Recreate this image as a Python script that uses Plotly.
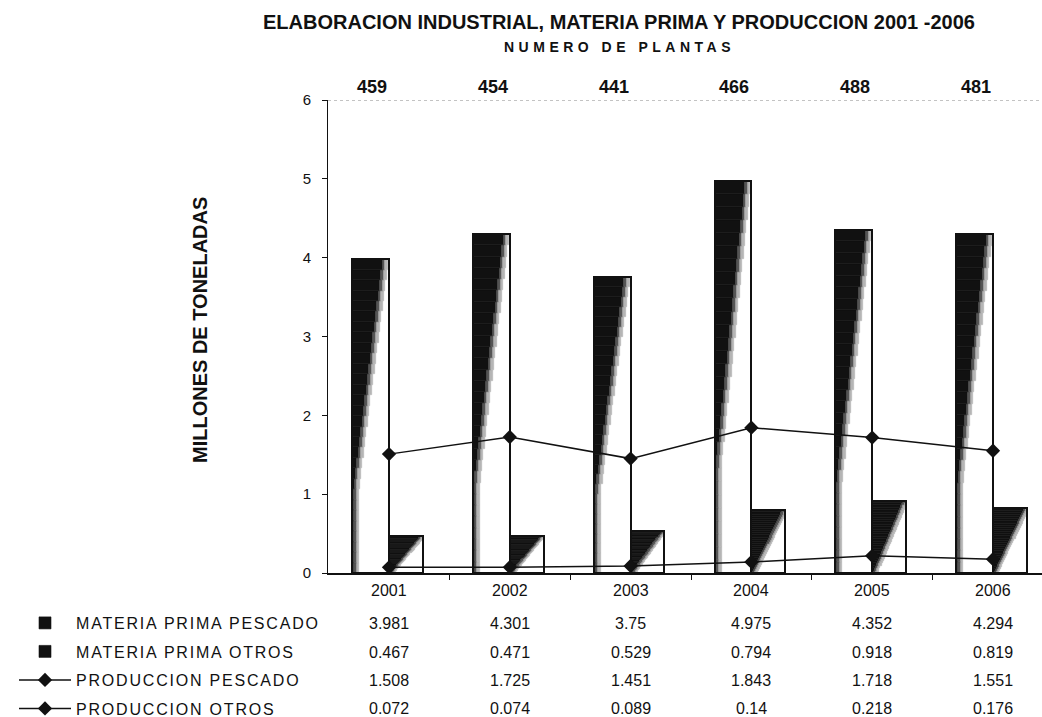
import plotly.graph_objects as go

years = ["2001", "2002", "2003", "2004", "2005", "2006"]
plantas = [459, 454, 441, 466, 488, 481]
mp_pescado = [3.981, 4.301, 3.75, 4.975, 4.352, 4.294]
mp_otros = [0.467, 0.471, 0.529, 0.794, 0.918, 0.819]
prod_pescado = [1.508, 1.725, 1.451, 1.843, 1.718, 1.551]
prod_otros = [0.072, 0.074, 0.089, 0.14, 0.218, 0.176]

series_names = ["MATERIA PRIMA PESCADO", "MATERIA PRIMA OTROS",
                "PRODUCCION PESCADO", "PRODUCCION OTROS"]

FONT = "Liberation Sans, Arial, sans-serif"
xs = list(range(len(years)))

fig = go.Figure()


def clip(v, lo, hi):
    return max(lo, min(hi, v))


def f_pes(t):
    return clip(0.05 + (t - 0.27) / 0.73 * 0.8, 0.05, 0.88)


def f_otr(t):
    return clip(0.03 + 0.9 * t, 0.05, 0.92)


N = 30
bar_specs = [
    (mp_pescado, -0.305, 0.305, f_pes, series_names[0], "g0"),
    (mp_otros, 0.0, 0.28, f_otr, series_names[1], "g1"),
]
for vals, off, wid, fn, name, grp in bar_specs:
    first = True
    for k in range(N):
        t = (k + 0.5) / N
        a = fn(t)
        segs = [(0.0, a, "#111111"),
                (a, min(a + 0.07, 1.0), "#555555"),
                (min(a + 0.07, 1.0), min(a + 0.14, 1.0), "#b5b5b5")]
        for u0, u1, col in segs:
            if u1 - u0 <= 1e-6:
                continue
            fig.add_trace(go.Bar(
                x=xs, y=[v / N for v in vals], base=[v * k / N for v in vals],
                offset=off + u0 * wid, width=(u1 - u0) * wid,
                marker=dict(color=col, line=dict(color=col, width=0.6)),
                name=name, legendgroup=grp, showlegend=first,
                hoverinfo="skip"))
            first = False
    fig.add_trace(go.Bar(
        x=xs, y=vals, offset=off, width=wid,
        marker=dict(color="rgba(0,0,0,0)", line=dict(color="#111111", width=2)),
        name=name, legendgroup=grp, showlegend=False))

fig.add_trace(go.Scatter(
    x=xs, y=prod_pescado, mode="lines+markers", name=series_names[2],
    legendgroup="g2",
    line=dict(color="#111111", width=1.5),
    marker=dict(symbol="diamond", size=11, color="#111111")))
fig.add_trace(go.Scatter(
    x=xs, y=prod_otros, mode="lines+markers", name=series_names[3],
    legendgroup="g3",
    line=dict(color="#111111", width=1.5),
    marker=dict(symbol="diamond", size=11, color="#111111")))

for tr in fig.data:
    if tr.showlegend is not False:
        tr.name = f"<span style='letter-spacing:1.8px'>{tr.name}</span>"

annotations = []
annotations.append(dict(
    text="<b>ELABORACION INDUSTRIAL, MATERIA PRIMA Y PRODUCCION 2001 -2006</b>",
    xref="paper", yref="paper", x=0.4076, y=1.165, showarrow=False,
    font=dict(family=FONT, size=20, color="#111111"), xanchor="center", yanchor="middle"))
annotations.append(dict(
    text="<b><span style='letter-spacing:4.5px'>NUMERO DE PLANTAS</span></b>",
    xref="paper", yref="paper", x=0.4076, y=1.113, showarrow=False,
    font=dict(family=FONT, size=14, color="#111111"), xanchor="center", yanchor="middle"))
annotations.append(dict(
    text="<b>MILLONES DE TONELADAS</b>", textangle=-90,
    xref="paper", yref="paper", x=(200 - 328) / 714, y=(573 - 330) / 473,
    showarrow=False, font=dict(family=FONT, size=20, color="#111111"),
    xanchor="center", yanchor="middle"))
for i, p in enumerate(plantas):
    annotations.append(dict(
        text=f"<b>{p}</b>", xref="x", yref="paper", x=xs[i], y=1 + 13 / 473,
        xshift=-17, showarrow=False, font=dict(family=FONT, size=18, color="#111111"),
        xanchor="center", yanchor="middle"))
row_y = [(573 - 590) / 473, (573 - 623) / 473, (573 - 652) / 473,
         (573 - 680) / 473, (573 - 708) / 473]
for i, yv in enumerate(years):
    annotations.append(dict(
        text=yv, xref="x", yref="paper", x=xs[i], y=row_y[0], showarrow=False,
        font=dict(family=FONT, size=16, color="#111111"), xanchor="center", yanchor="middle"))
for r, vals in enumerate([mp_pescado, mp_otros, prod_pescado, prod_otros]):
    for i, v in enumerate(vals):
        annotations.append(dict(
            text=f"{v:g}", xref="x", yref="paper", x=xs[i], y=row_y[r + 1],
            showarrow=False, font=dict(family=FONT, size=16, color="#111111"),
            xanchor="center", yanchor="middle"))

fig.update_layout(
    width=1042, height=717,
    margin=dict(l=328, r=0, t=100, b=144, autoexpand=False),
    paper_bgcolor="white", plot_bgcolor="white",
    barmode="overlay", bargap=0,
    font=dict(family=FONT, size=14, color="#111111"),
    annotations=annotations,
    legend=dict(
        x=(14 - 328) / 714, xanchor="left", y=(573 - 606) / 473, yanchor="top",
        traceorder="grouped", tracegroupgap=4.7,
        font=dict(family=FONT, size=16, color="#111111"),
        bgcolor="rgba(0,0,0,0)", itemwidth=52),
    shapes=[dict(type="line", xref="paper", yref="y", x0=0, x1=1, y0=6, y1=6,
                 line=dict(color="#888888", width=1, dash="dot"))],
    showlegend=True,
)
fig.update_xaxes(
    range=[-0.505, -0.505 + 714 / 120.8], showgrid=False, zeroline=False,
    showline=True, linecolor="#111111", linewidth=2,
    tickvals=[x + 0.5 for x in xs[:-1]], ticks="outside", ticklen=5,
    tickcolor="#111111", showticklabels=False)
fig.update_yaxes(
    range=[0, 6], dtick=1, showgrid=False, zeroline=False,
    showline=True, linecolor="#111111", linewidth=1,
    ticks="outside", ticklen=5, tickcolor="#111111",
    tickfont=dict(family=FONT, size=15, color="#111111"), ticklabelstandoff=8)

fig.write_html("out.html", config={"displayModeBar": False},
               post_script="document.body.style.margin='0px';document.body.style.overflow='hidden';")
